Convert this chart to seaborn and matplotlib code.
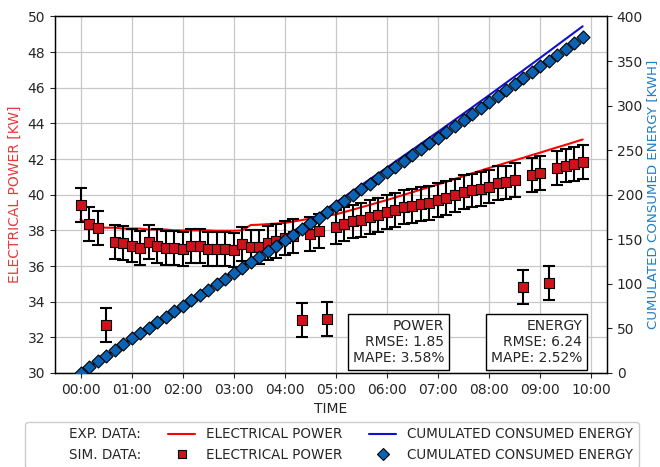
import numpy as np
import pandas as pd
import matplotlib
matplotlib.use("Agg")
import matplotlib.pyplot as plt
from matplotlib.lines import Line2D
import seaborn as sns

# Sample instants: one every 10 minutes from 00:00 to 09:50, in hours
time_h = np.arange(60) / 6.0

# Measured electrical power [kW]
exp_power = [
    38.60, 38.35, 38.20, 38.15, 38.15, 38.10,
    38.10, 38.10, 38.05, 38.05, 38.05, 38.00,
    38.00, 38.00, 38.00, 38.00, 37.98, 37.98,
    37.98, 38.00, 38.30, 38.32, 38.35, 38.38,
    38.42, 38.50, 38.58, 38.66, 38.74, 38.82,
    38.90, 39.03, 39.16, 39.30, 39.43, 39.57,
    39.70, 39.85, 40.00, 40.14, 40.29, 40.43,
    40.58, 40.73, 40.89, 41.04, 41.20, 41.35,
    41.50, 41.64, 41.79, 41.93, 42.07, 42.22,
    42.36, 42.51, 42.66, 42.80, 42.95, 43.10,
]

# Simulated electrical power [kW]
sim_power = [
    39.44, 38.36, 38.12, 32.70, 37.34, 37.30,
    37.15, 37.00, 37.34, 37.11, 37.02, 37.02,
    36.98, 37.11, 37.11, 36.98, 36.95, 36.95,
    36.90, 37.22, 37.05, 37.06, 37.28, 37.40,
    37.55, 37.70, 32.98, 37.82, 37.95, 33.02,
    38.19, 38.37, 38.50, 38.60, 38.73, 38.84,
    39.01, 39.12, 39.31, 39.39, 39.50, 39.53,
    39.72, 39.80, 39.96, 40.13, 40.24, 40.34,
    40.46, 40.65, 40.69, 40.84, 34.84, 41.12,
    41.21, 35.03, 41.49, 41.64, 41.72, 41.86,
]
sim_power_err = 0.95

# Measured cumulated consumed energy [kWh]
exp_energy = [
    0.0, 6.4, 12.8, 19.1, 25.5, 31.9,
    38.3, 44.6, 51.0, 57.3, 63.7, 70.0,
    76.4, 82.7, 89.0, 95.4, 101.7, 108.1,
    114.4, 120.8, 127.1, 133.5, 139.9, 146.2,
    152.6, 159.0, 165.4, 171.9, 178.3, 184.8,
    191.2, 197.7, 204.3, 210.8, 217.4, 223.9,
    230.5, 237.2, 243.9, 250.5, 257.2, 263.9,
    270.6, 277.4, 284.2, 291.1, 297.9, 304.8,
    311.6, 318.6, 325.6, 332.5, 339.5, 346.5,
    353.5, 360.6, 367.7, 374.8, 381.9, 389.0,
]

# Simulated cumulated consumed energy [kWh]
sim_energy = [
    0.0, 6.5, 13.0, 19.4, 25.9, 32.3,
    38.8, 44.9, 51.0, 57.1, 63.2, 69.2,
    75.3, 81.4, 87.5, 93.6, 99.7, 105.8,
    111.9, 118.0, 124.2, 130.3, 136.5, 142.6,
    148.8, 155.2, 161.5, 167.9, 174.2, 180.6,
    187.0, 193.3, 199.7, 206.0, 212.3, 218.7,
    225.0, 231.5, 238.0, 244.5, 251.0, 257.5,
    264.0, 270.7, 277.3, 284.0, 290.7, 297.3,
    304.0, 310.7, 317.3, 324.0, 330.7, 337.3,
    344.0, 350.6, 357.2, 363.8, 370.4, 377.0,
]

hour_ticks = list(range(0, 11))
hour_labels = [f"{h:02d}:00" for h in hour_ticks]
power_ticks = list(range(30, 51, 2))
energy_ticks = list(range(0, 401, 50))

power_stats = {"name": "POWER", "rmse": 1.85, "mape": 3.58}
energy_stats = {"name": "ENERGY", "rmse": 6.24, "mape": 2.52}

df = pd.DataFrame({
    "time": time_h,
    "exp_power": exp_power,
    "sim_power": sim_power,
    "exp_energy": exp_energy,
    "sim_energy": sim_energy,
})

sns.set_style("ticks")
plt.rcParams["font.family"] = ["DejaVu Sans"]
plt.rcParams.update({
    "font.size": 10,
    "xtick.labelsize": 10,
    "ytick.labelsize": 10,
    "xtick.major.size": 3.5,
    "ytick.major.size": 3.5,
    "axes.edgecolor": "black",
    "axes.linewidth": 0.9,
})

POWER_RED = "#e8393c"
ENERGY_BLUE = "#1f7fc4"
SQUARE_RED = "#d0121b"
DIAMOND_BLUE = "#0b63b5"

fig = plt.figure(figsize=(6.6, 4.67), dpi=100)
ax = fig.add_axes([0.0833, 0.2013, 0.9197 - 0.0833, 0.9647 - 0.2013])
ax2 = ax.twinx()

# Power axis
ax.grid(True, color="#c8c8c8", linewidth=0.9)
ax.set_axisbelow(True)
sns.lineplot(data=df, x="time", y="exp_power", ax=ax, color="red",
             linewidth=1.5, zorder=2)
ax.errorbar(df["time"], df["sim_power"], yerr=sim_power_err, fmt="none",
            ecolor="black", elinewidth=1.5, capsize=4, capthick=1.5, zorder=3)
sns.scatterplot(data=df, x="time", y="sim_power", ax=ax, marker="s", s=46,
                color=SQUARE_RED, edgecolor="black", linewidth=0.8,
                zorder=4, legend=False)

# Energy axis
sns.lineplot(data=df, x="time", y="exp_energy", ax=ax2, color="#1010d0",
             linewidth=1.5, zorder=2)
sns.scatterplot(data=df, x="time", y="sim_energy", ax=ax2, marker="D", s=44,
                color=DIAMOND_BLUE, edgecolor="black", linewidth=0.8,
                zorder=3, legend=False)

ax.set_xlim(-0.5, 10.31)
ax.set_ylim(30, 50)
ax2.set_ylim(0, 400)
ax.set_xticks(hour_ticks)
ax.set_xticklabels(hour_labels)
ax.set_yticks(power_ticks)
ax2.set_yticks(energy_ticks)
ax2.grid(False)

ax.set_xlabel("TIME", fontsize=10)
ax.set_ylabel("ELECTRICAL POWER [KW]", color=POWER_RED, fontsize=10)
ax2.set_ylabel("CUMULATED CONSUMED ENERGY [KWH]", color=ENERGY_BLUE,
               fontsize=9.6, labelpad=2)

for spine in ax2.spines.values():
    spine.set_edgecolor("black")

# Error metric boxes
for stats, xpos in ((power_stats, 0.705), (energy_stats, 0.955)):
    txt = (f"{stats['name']}\nRMSE: {stats['rmse']:.2f}\n"
           f"MAPE: {stats['mape']:.2f}%")
    ax2.text(xpos, 0.022, txt, transform=ax.transAxes, ha="right", va="bottom",
             multialignment="right", fontsize=10, zorder=10,
             bbox=dict(boxstyle="square,pad=0.35", facecolor="white",
                       edgecolor="black", linewidth=1.0))

# Legend below the plot
blank = Line2D([], [], color="none")
handles = [
    blank, blank,
    Line2D([], [], color="red", linewidth=1.5),
    Line2D([], [], linestyle="none", marker="s", markersize=5.5,
           markerfacecolor=SQUARE_RED, markeredgecolor="black",
           markeredgewidth=0.8),
    Line2D([], [], color="#1010d0", linewidth=1.5),
    Line2D([], [], linestyle="none", marker="D", markersize=6,
           markerfacecolor=DIAMOND_BLUE, markeredgecolor="black",
           markeredgewidth=0.8),
]
labels = ["EXP. DATA:", "SIM. DATA:",
          "ELECTRICAL POWER", "ELECTRICAL POWER",
          "CUMULATED CONSUMED ENERGY", "CUMULATED CONSUMED ENERGY"]
fig.legend(handles, labels, ncol=3, loc="upper center",
           bbox_to_anchor=(332 / 660, 1 - 422 / 467), fontsize=9.75,
           frameon=True, edgecolor="#cccccc", framealpha=1.0,
           fancybox=True, borderaxespad=0.0)

fig.savefig("out.png", dpi=100)
